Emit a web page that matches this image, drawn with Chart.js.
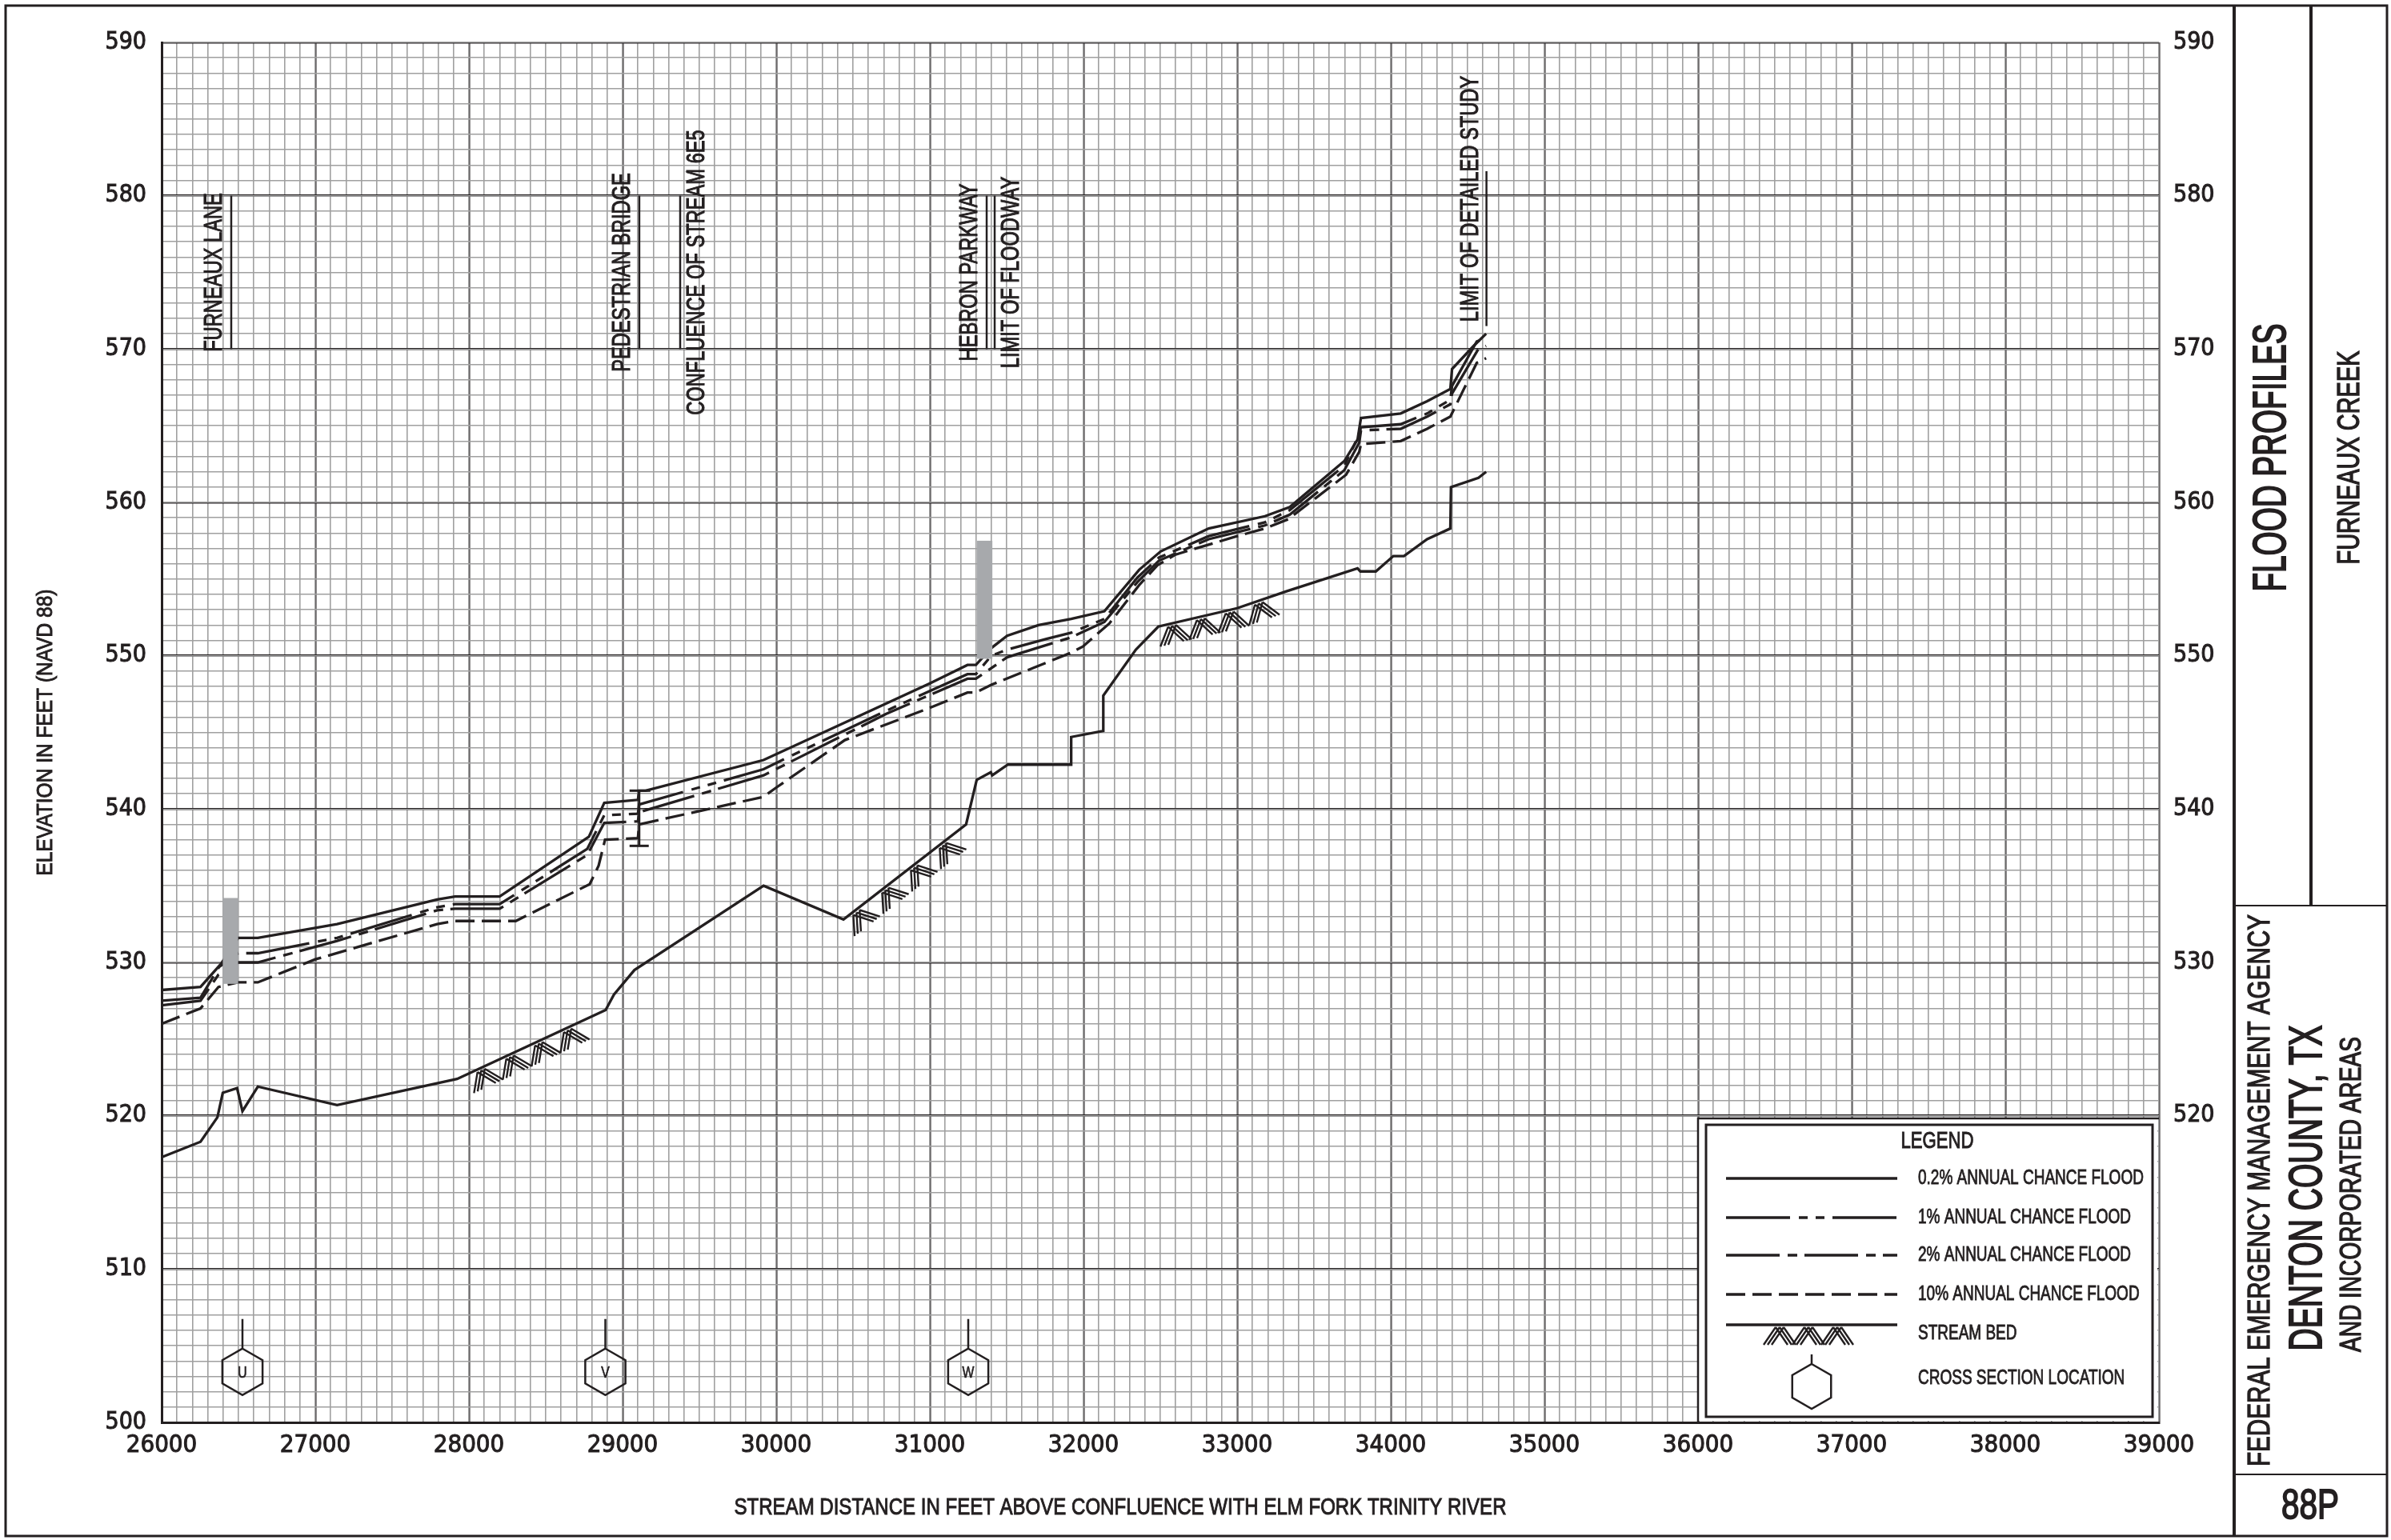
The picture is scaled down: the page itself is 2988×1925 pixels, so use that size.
<!DOCTYPE html>
<html>
<head>
<meta charset="utf-8">
<title>Flood Profiles - Furneaux Creek</title>
<script src="https://cdn.jsdelivr.net/npm/chart.js@4.4.1/dist/chart.umd.min.js"></script>
<style>
  html, body { margin: 0; padding: 0; background: #fff; }
  #wrap { position: relative; width: 2988px; height: 1925px; }
</style>
</head>
<body>
<div id="wrap"><canvas id="profile"></canvas></div>
<script>
// stream distance (ft above confluence) and water surface elevation (ft NAVD 88)
const dist02 = [26000, 26253, 26386, 26498, 26626, 27142, 27793, 27910, 28200, 28781, 28881, 29100, 29108, 29150, 29918, 31000, 31245, 31300, 31400, 31503, 31707, 31920, 32136, 32362, 32502, 32815, 33181, 33343, 33698, 33784, 33806, 34065, 34237, 34388, 34399, 34539, 34621];
const elev02 = [528.2, 528.4, 529.9, 531.6, 531.6, 532.5, 534.1, 534.3, 534.3, 538.2, 540.4, 540.6, 541.2, 541.2, 543.2, 548.2, 549.4, 549.4, 550.5, 551.3, 552.0, 552.4, 552.9, 555.6, 556.8, 558.3, 559.1, 559.7, 562.7, 564.1, 565.5, 565.8, 566.6, 567.4, 568.7, 570.2, 571.0];

const dist1 = [26000, 26253, 26374, 26498, 26626, 27142, 27793, 27910, 28200, 28770, 28881, 29100, 29108, 29918, 30019, 30714, 31000, 31245, 31300, 31400, 31503, 31759, 31920, 32136, 32351, 32491, 32815, 33181, 33343, 33698, 33784, 33806, 34065, 34237, 34388, 34399, 34560, 34621];
const elev1 = [527.5, 527.7, 529.7, 530.6, 530.6, 531.6, 533.6, 533.8, 533.8, 537.4, 539.6, 539.7, 540.3, 542.6, 543.1, 546.4, 547.7, 548.8, 548.8, 550.0, 550.4, 551.1, 551.5, 552.4, 555.1, 556.4, 557.8, 558.7, 559.5, 562.4, 564.2, 564.9, 565.1, 565.8, 566.7, 567.6, 570.5, 570.7];

const dist2 = [26000, 26253, 26370, 26498, 26626, 27142, 27793, 27910, 28200, 28770, 28881, 29100, 29108, 29918, 30714, 31245, 31300, 31503, 31920, 32136, 32351, 32491, 32815, 33181, 33343, 33698, 33795, 33806, 34065, 34237, 34388, 34399, 34570, 34621];
const elev2 = [527.2, 527.5, 529.2, 530.0, 530.0, 531.4, 533.4, 533.5, 533.5, 537.0, 539.1, 539.2, 539.8, 542.2, 546.2, 548.5, 548.5, 549.9, 551.2, 552.2, 554.8, 556.2, 557.6, 558.5, 559.2, 562.1, 563.9, 564.7, 564.8, 565.6, 566.4, 567.1, 570.0, 570.2];

const dist10 = [26000, 26253, 26370, 26498, 26626, 27000, 27793, 27910, 28305, 28786, 28844, 28886, 29100, 29108, 29918, 30000, 30447, 31000, 31245, 31300, 31400, 31672, 31920, 31996, 32168, 32362, 32481, 32600, 33000, 33181, 33332, 33709, 33795, 33806, 34065, 34237, 34388, 34560, 34621];
const elev10 = [526.0, 527.0, 528.4, 528.7, 528.7, 530.2, 532.5, 532.7, 532.7, 535.1, 536.3, 538.0, 538.1, 539.0, 540.8, 541.4, 544.5, 546.6, 547.6, 547.6, 548.1, 549.2, 550.2, 550.6, 552.1, 554.6, 555.9, 556.6, 557.8, 558.3, 558.9, 561.8, 563.3, 563.8, 564.0, 564.8, 565.6, 569.1, 569.4];

const distBed = [26000, 26253, 26363, 26398, 26491, 26526, 26626, 27142, 27923, 28890, 28944, 29077, 29918, 30438, 31236, 31305, 31397, 31406, 31508, 31920, 31920, 32129, 32129, 32341, 32487, 33000, 33321, 33784, 33802, 33903, 34017, 34086, 34237, 34388, 34392, 34571, 34621];
const elevBed = [517.3, 518.3, 519.9, 521.5, 521.8, 520.3, 521.9, 520.7, 522.4, 526.9, 527.9, 529.5, 535.0, 532.8, 539.0, 541.9, 542.4, 542.2, 542.9, 542.9, 544.7, 545.1, 547.4, 550.4, 551.9, 553.1, 554.2, 555.7, 555.5, 555.5, 556.5, 556.5, 557.6, 558.3, 561.0, 561.6, 562.0];

// stream bed stretches drawn with the hatch symbol
const hatchFrom = [28000, 30440, 32500];
const hatchTo = [28780, 31130, 33320];

// road crossings / limits written above the profiles
const roadLabels = ['FURNEAUX LANE', 'PEDESTRIAN BRIDGE', 'CONFLUENCE OF STREAM 6E5', 'HEBRON PARKWAY', 'LIMIT OF FLOODWAY', 'LIMIT OF DETAILED STUDY'];
const roadDist = [26453, 29109, 29375, 31370, 31422, 34623];
const roadLow = [570, 570, 570, 570, 570, 571.5];
const roadHigh = [580, 580, 580, 580, 580, 581.6];
const roadTextElev = [575, 575, 575, 575, 575, 579.8];
const roadSide = [-1, -1, 1, -1, 1, -1];

// culverts (grey) and the pedestrian bridge deck
const culvertDist = [26448, 31357];
const culvertLow = [528.6, 549.8];
const culvertHigh = [534.2, 557.5];
const bridgeDist = [29108];
const bridgeLow = [537.6];
const bridgeHigh = [541.2];

// cross sections
const xsLabels = ['U', 'V', 'W'];
const xsDist = [26526, 28888, 31250];
const xsElev = 503.3;

const INK = '#231f20';
const MINOR = '#a0a0a0';
const SANS = '"Liberation Sans", Arial, sans-serif';
const NARROW = '"Liberation Sans Narrow", "Arial Narrow", "DejaVu Sans Condensed", "Liberation Sans", sans-serif';

const xyOf = (d, e) => d.map((v, i) => ({ x: v, y: e[i] }));

function lineSet(label, d, e, dash) {
  return {
    label: label,
    data: xyOf(d, e),
    borderColor: INK,
    borderWidth: 3.3,
    borderDash: dash,
    pointRadius: 0,
    tension: 0,
    fill: false
  };
}

const data = {
  datasets: [
    lineSet('0.2% ANNUAL CHANCE FLOOD', dist02, elev02, []),
    lineSet('1% ANNUAL CHANCE FLOOD', dist1, elev1, [80, 11, 11, 10, 11, 10]),
    lineSet('2% ANNUAL CHANCE FLOOD', dist2, elev2, [67, 10, 12, 9]),
    lineSet('10% ANNUAL CHANCE FLOOD', dist10, elev10, [24, 9]),
    lineSet('STREAM BED', distBed, elevBed, [])
  ]
};

// --- small drawing helpers ---
function say(ctx, text, x, y, size, sx, angle, align) {
  ctx.save();
  ctx.translate(x, y);
  ctx.rotate(angle || 0);
  ctx.scale(sx, 1);
  ctx.font = size + 'px ' + SANS;
  ctx.textAlign = align || 'center';
  ctx.textBaseline = 'middle';
  ctx.fillStyle = INK;
  ctx.strokeStyle = INK;
  ctx.lineWidth = size * 0.035;
  ctx.strokeText(text, 0, 0);
  ctx.fillText(text, 0, 0);
  ctx.restore();
}

function fit(ctx, text, x, y, size, len, angle) {
  ctx.font = size + 'px ' + SANS;
  const w = ctx.measureText(text).width;
  say(ctx, text, x, y, size, len / w, angle);
}

function seg(ctx, x0, y0, x1, y1, w) {
  ctx.lineWidth = w;
  ctx.beginPath();
  ctx.moveTo(x0, y0);
  ctx.lineTo(x1, y1);
  ctx.stroke();
}

function hexagon(ctx, cx, cy, r, stick) {
  ctx.beginPath();
  for (let k = 0; k < 6; k++) {
    const a = -Math.PI / 2 + k * Math.PI / 3;
    const px = cx + r * Math.cos(a), py = cy + r * Math.sin(a);
    if (k === 0) ctx.moveTo(px, py); else ctx.lineTo(px, py);
  }
  ctx.closePath();
  ctx.moveTo(cx, cy - r);
  ctx.lineTo(cx, cy - r - stick);
  ctx.stroke();
}

function chevron(ctx, x, y, ang) {
  ctx.save();
  ctx.translate(x, y);
  ctx.rotate(ang);
  ctx.beginPath();
  for (let k = -1; k <= 1; k++) {
    const o = k * 5;
    ctx.moveTo(o, 3); ctx.lineTo(o - 15, 25);
    ctx.moveTo(o, 3); ctx.lineTo(o + 15, 25);
  }
  ctx.stroke();
  ctx.restore();
}

function drawLegend(chart) {
  const { ctx, chartArea: a } = chart;
  const L = a.right - 576, T = a.bottom - 380;
  ctx.save();
  ctx.fillStyle = '#fff';
  ctx.fillRect(L, T, a.right - L - 2, a.bottom - T - 2);
  ctx.strokeStyle = INK;
  ctx.lineWidth = 2.5;
  ctx.beginPath();
  ctx.moveTo(L, a.bottom); ctx.lineTo(L, T); ctx.lineTo(a.right, T);
  ctx.stroke();
  ctx.lineWidth = 3;
  ctx.strokeRect(L + 10, T + 8, 558, 365);

  fit(ctx, 'LEGEND', L + 299, T + 29, 30, 91, 0);
  const sx0 = L + 35, sx1 = L + 249, tx = L + 275;
  const rows = [T + 75, T + 124, T + 171, T + 220, T + 258];
  chart.data.datasets.forEach((ds, i) => {
    ctx.setLineDash(ds.borderDash || []);
    seg(ctx, sx0, rows[i], sx1, rows[i], 3.3);
    ctx.setLineDash([]);
    say(ctx, ds.label, tx, i === 4 ? T + 269 : rows[i], 25, 0.76, 0, 'left');
  });
  ctx.lineWidth = 2.4;
  for (let x = L + 102; x < L + 200; x += 36) chevron(ctx, x, rows[4], 0);
  ctx.lineWidth = 2.5;
  hexagon(ctx, L + 142, T + 335, 28, 12);
  say(ctx, 'CROSS SECTION LOCATION', tx, T + 325, 25, 0.76, 0, 'left');
  ctx.restore();
}

function drawMarks(chart) {
  const { ctx, scales: { x, y } } = chart;
  ctx.save();
  ctx.strokeStyle = INK;

  // grey culvert bars
  ctx.fillStyle = '#a7a9ac';
  culvertDist.forEach((d, i) => {
    const x0 = x.getPixelForValue(d - 50), x1 = x.getPixelForValue(d + 50);
    const y0 = y.getPixelForValue(culvertHigh[i]), y1 = y.getPixelForValue(culvertLow[i]);
    ctx.fillRect(x0, y0, x1 - x0, y1 - y0);
  });

  // bridge deck symbol
  bridgeDist.forEach((d, i) => {
    const px = x.getPixelForValue(d);
    const top = y.getPixelForValue(bridgeHigh[i]), bot = y.getPixelForValue(bridgeLow[i]);
    seg(ctx, px, top, px, bot, 3);
    seg(ctx, px - 12, top, px + 14, top, 3);
    seg(ctx, px - 12, bot, px + 12, bot, 3);
  });

  // stream bed hatch
  const pts = chart.getDatasetMeta(4).data.map(p => ({ x: p.x, y: p.y }));
  ctx.lineWidth = 2.4;
  hatchFrom.forEach((d, h) => {
    const px0 = x.getPixelForValue(d), px1 = x.getPixelForValue(hatchTo[h]);
    for (let px = px0 + 14; px < px1; px += 36) {
      const i = pts.findIndex((p, k) => k < pts.length - 1 && p.x <= px && pts[k + 1].x > px);
      if (i < 0) continue;
      const p = pts[i], q = pts[i + 1];
      const f = (px - p.x) / (q.x - p.x);
      chevron(ctx, px, p.y + f * (q.y - p.y), Math.atan2(q.y - p.y, q.x - p.x));
    }
  });

  // cross section hexagons
  ctx.lineWidth = 2.5;
  xsDist.forEach((d, i) => {
    const px = x.getPixelForValue(d), py = y.getPixelForValue(xsElev);
    hexagon(ctx, px, py, 29, 37);
    say(ctx, xsLabels[i], px, py + 1, 21, 0.75, 0);
  });

  // road labels with their leader lines
  roadLabels.forEach((t, i) => {
    const px = x.getPixelForValue(roadDist[i]);
    seg(ctx, px, y.getPixelForValue(roadHigh[i]), px, y.getPixelForValue(roadLow[i]), 2.5);
    const off = i === 5 ? 19 : 21;
    say(ctx, t, px + roadSide[i] * off, y.getPixelForValue(roadTextElev[i]), 32, 0.74, -Math.PI / 2);
  });
  ctx.restore();
}

function drawSheet(chart) {
  const { ctx, chartArea: a } = chart;
  ctx.save();
  ctx.strokeStyle = INK;
  // axis titles
  fit(ctx, 'ELEVATION IN FEET (NAVD 88)', 57, (a.top + a.bottom) / 2, 28, 358, -Math.PI / 2);
  fit(ctx, 'STREAM DISTANCE IN FEET ABOVE CONFLUENCE WITH ELM FORK TRINITY RIVER', 1400, 1885, 30, 965, 0);

  // sheet border and title block
  ctx.lineWidth = 3;
  ctx.strokeRect(7, 7, 2976, 1913);
  seg(ctx, 2792, 7, 2792, 1920, 4);
  seg(ctx, 2888, 7, 2888, 1132, 4);
  seg(ctx, 2792, 1132, 2983, 1132, 2);
  seg(ctx, 2792, 1843, 2983, 1843, 2);
  const up = -Math.PI / 2;
  fit(ctx, 'FLOOD PROFILES', 2840, 572, 58, 335, up);
  fit(ctx, 'FURNEAUX CREEK', 2937, 572, 39, 267, up);
  fit(ctx, 'FEDERAL EMERGENCY MANAGEMENT AGENCY', 2826, 1488, 38, 690, up);
  fit(ctx, 'DENTON COUNTY, TX', 2885, 1485, 58, 407, up);
  fit(ctx, 'AND INCORPORATED AREAS', 2940, 1493, 37, 394, up);
  fit(ctx, '88P', 2887, 1884, 52, 72, 0);
  ctx.restore();
}

const sheetPlugin = {
  id: 'sheet',
  beforeDatasetsDraw(chart) { drawLegend(chart); },
  afterDatasetsDraw(chart) { drawMarks(chart); },
  afterDraw(chart) { drawSheet(chart); }
};

const tickFont = { family: NARROW, size: 31 };

const config = {
  type: 'line',
  data: data,
  options: {
    responsive: true,
    maintainAspectRatio: false,
    animation: false,
    events: [],
    layout: { padding: { left: 0, top: 53, right: 200, bottom: 0 } },
    plugins: { legend: { display: false }, tooltip: { enabled: false } },
    scales: {
      x: {
        type: 'linear', position: 'bottom', min: 26000, max: 39000, z: 0,
        ticks: { stepSize: 1000, autoSkip: false, maxRotation: 0, padding: 10, color: INK, font: tickFont,
          textStrokeColor: INK, textStrokeWidth: 1,
          callback: v => String(v) },
        grid: { color: INK, lineWidth: 2.5, drawTicks: false },
        border: { display: true, color: INK, width: 3 },
        afterFit: s => { s.height = 147; }
      },
      xMinor: {
        type: 'linear', position: 'bottom', min: 26000, max: 39000, z: -1,
        ticks: { display: false, stepSize: 100 },
        grid: { color: MINOR, lineWidth: 1.6, drawTicks: false },
        border: { display: false },
        afterFit: s => { s.height = 0; }
      },
      y: {
        type: 'linear', position: 'left', min: 500, max: 590, z: 0,
        ticks: { stepSize: 10, padding: 19, color: INK, font: { family: NARROW, size: 30 },
          textStrokeColor: INK, textStrokeWidth: 1 },
        grid: { color: INK, lineWidth: 2.5, drawTicks: false },
        border: { display: true, color: INK, width: 3 },
        afterFit: s => { s.width = 202; }
      },
      yMinor: {
        type: 'linear', position: 'left', min: 500, max: 590, z: -1,
        ticks: { display: false, stepSize: 1 },
        grid: { color: MINOR, lineWidth: 1.6, drawTicks: false },
        border: { display: false },
        afterFit: s => { s.width = 0; }
      },
      yRight: {
        type: 'linear', position: 'right', min: 500, max: 590,
        ticks: { stepSize: 10, padding: 18, color: INK, font: { family: NARROW, size: 30 },
          textStrokeColor: INK, textStrokeWidth: 1,
          callback: v => (v >= 520 ? String(v) : '') },
        grid: { display: false, drawTicks: false },
        border: { display: false },
        afterFit: s => { s.width = 90; }
      }
    }
  },
  plugins: [sheetPlugin]
};

const chart = new Chart(document.getElementById('profile'), config);
</script>
</body>
</html>
